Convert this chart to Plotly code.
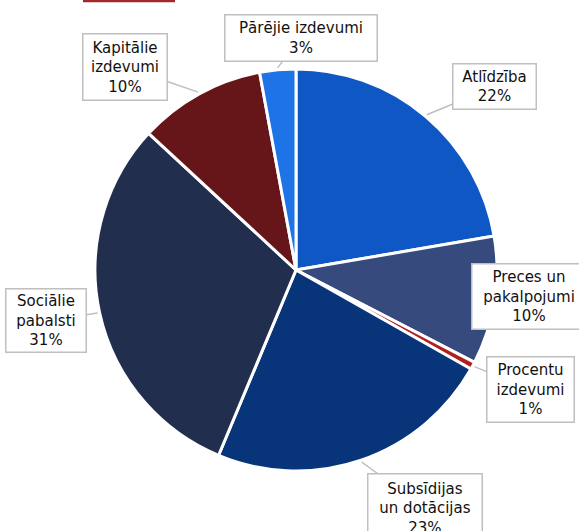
import math
import plotly.graph_objects as go

# ---- data ----
categories = ["Atlīdzība", "Preces un pakalpojumi", "Procentu izdevumi",
              "Subsīdijas un dotācijas", "Sociālie pabalsti",
              "Kapitālie izdevumi", "Pārējie izdevumi"]
label_lines = ["Atlīdzība", "Preces un<br>pakalpojumi", "Procentu<br>izdevumi",
               "Subsīdijas<br>un dotācijas", "Sociālie<br>pabalsti",
               "Kapitālie<br>izdevumi", "Pārējie izdevumi"]
values = [22.3, 10.3, 0.6, 23.1, 30.6, 10.2, 2.9]
colors = ["#0F57C5", "#374A7D", "#B02020", "#08347A", "#212E4E", "#661618", "#1E74E6"]

# ---- layout ----
W, H = 579, 531
CX, CY, R = 296, 270, 201
box_centers = [(494.5, 86.5), (529, 296.5), (530.5, 389.5), (425, 508),
               (46, 320.5), (125, 67), (301, 38)]
box_sizes = [(85, 47), (116, 67), (89, 67), (116, 70), (82, 65), (86, 68), (154, 48)]
show_arrow = [True, False, True, True, True, True, True]

fig = go.Figure(go.Pie(
    labels=categories, values=values, sort=False, direction="clockwise",
    rotation=0, textinfo="none", hoverinfo="label+percent",
    marker=dict(colors=colors, line=dict(color="white", width=3)),
    domain=dict(x=[(CX - R) / W, (CX + R) / W], y=[1 - (CY + R) / H, 1 - (CY - R) / H]),
))

total = sum(values)
cum = 0.0
annotations = []
for i, v in enumerate(values):
    mid = (cum + v / 2) / total * 2 * math.pi
    cum += v
    pct = round(v / total * 100)
    text = f"{label_lines[i]}<br>{pct}%"
    bx, by = box_centers[i]
    bw, bh = box_sizes[i]
    common = dict(text=text, xref="paper", yref="paper",
                  font=dict(family="DejaVu Sans", size=15, color="#111111"),
                  bgcolor="white", bordercolor="#BFBFBF", borderwidth=1.5,
                  borderpad=1, width=bw - 5, height=bh - 5, align="center",
                  valign="middle", xanchor="center", yanchor="middle")
    if show_arrow[i]:
        tx = CX + (R + 2) * math.sin(mid)
        ty = CY - (R + 2) * math.cos(mid)
        annotations.append(dict(x=tx / W, y=1 - ty / H, showarrow=True, arrowhead=0,
                                arrowcolor="#BFBFBF", arrowwidth=1.5, standoff=0,
                                ax=bx - tx, ay=by - ty, **common))
    else:
        annotations.append(dict(x=bx / W, y=1 - by / H, showarrow=False, **common))

fig.update_layout(
    width=W, height=H, autosize=False,
    margin=dict(l=0, r=0, t=0, b=0),
    paper_bgcolor="white", plot_bgcolor="white",
    showlegend=False, annotations=annotations,
    shapes=[dict(type="line", xref="paper", yref="paper",
                 x0=83 / W, x1=175 / W, y0=1 - 1 / H, y1=1 - 1 / H,
                 line=dict(color="#A0292B", width=2.5))],
)

fig.write_html("out.html", config={"displayModeBar": False},
               post_script="document.body.style.margin='0';document.body.style.overflow='hidden';")
